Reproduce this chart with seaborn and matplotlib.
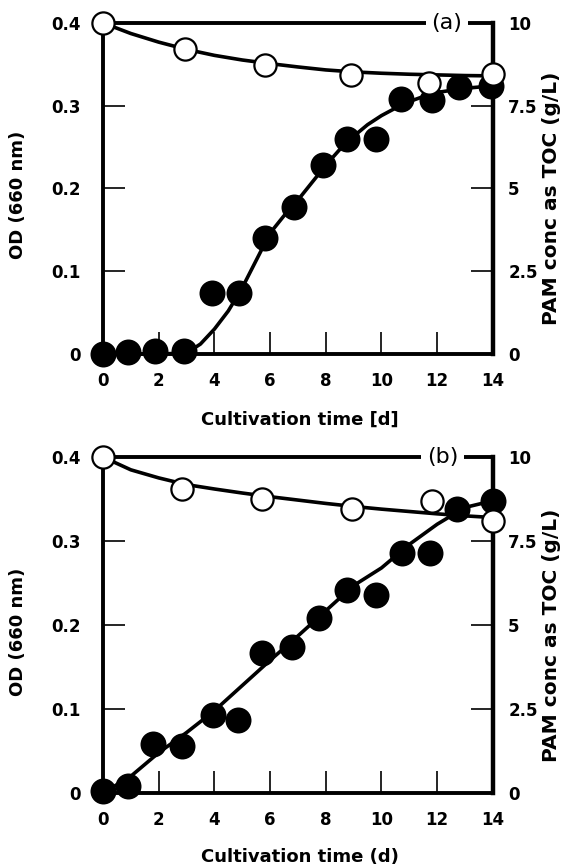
import matplotlib
matplotlib.use("Agg")
import matplotlib.pyplot as plt
import seaborn as sns

# ---- panel (a) ----
od_days_a = [0, 0.9, 1.85, 2.9, 3.9, 4.9, 5.8, 6.85, 7.9, 8.75, 9.8, 10.7, 11.8, 12.8, 13.95]
od_a = [0.0, 0.002, 0.004, 0.004, 0.074, 0.074, 0.14, 0.178, 0.228, 0.26, 0.26, 0.308, 0.307, 0.322, 0.324]
od_fit_days_a = [0, 1, 2, 3, 3.5, 4, 4.5, 5, 5.5, 6, 6.5, 7, 7.5, 8, 8.5, 9, 9.5, 10, 10.5, 11, 11.5, 12, 13, 14]
od_fit_a = [0, 0, 0, 0.001, 0.012, 0.03, 0.052, 0.08, 0.113, 0.146, 0.167, 0.186, 0.207, 0.228,
            0.247, 0.263, 0.277, 0.288, 0.297, 0.305, 0.311, 0.316, 0.321, 0.324]
toc_days_a = [0, 2.95, 5.8, 8.9, 11.7, 14.0]
toc_a = [10.0, 9.2, 8.72, 8.43, 8.2, 8.47]
toc_fit_days_a = [0, 1, 2, 3, 4, 5, 6, 7, 8, 9, 10, 11, 12, 13, 14]
toc_fit_a = [10, 9.68, 9.42, 9.2, 9.02, 8.88, 8.77, 8.67, 8.58, 8.52, 8.48, 8.45, 8.43, 8.41, 8.4]

# ---- panel (b) ----
od_days_b = [0, 0.9, 1.8, 2.85, 3.95, 4.85, 5.7, 6.8, 7.75, 8.75, 9.8, 10.75, 11.75, 12.7, 14.0]
od_b = [0.002, 0.008, 0.058, 0.056, 0.093, 0.087, 0.167, 0.174, 0.208, 0.242, 0.236, 0.286, 0.286, 0.338, 0.348]
od_fit_days_b = [0, 1, 2, 3, 4, 5, 6, 7, 8, 9, 10, 11, 12, 13, 14]
od_fit_b = [0, 0.02, 0.048, 0.072, 0.098, 0.128, 0.158, 0.187, 0.217, 0.247, 0.268, 0.296, 0.32, 0.34, 0.348]
toc_days_b = [0, 2.85, 5.72, 8.95, 11.8, 14.0]
toc_b = [10.0, 9.05, 8.75, 8.45, 8.7, 8.1]
toc_fit_days_b = [0, 1, 2, 3, 4, 5, 6, 7, 8, 9, 10, 11, 12, 13, 14]
toc_fit_b = [10, 9.62, 9.38, 9.18, 9.05, 8.93, 8.82, 8.72, 8.62, 8.53, 8.45, 8.38, 8.31, 8.25, 8.2]

x_ticks = [0, 2, 4, 6, 8, 10, 12, 14]
od_ticks = [0, 0.1, 0.2, 0.3, 0.4]
od_labels = ["0", "0.1", "0.2", "0.3", "0.4"]
toc_ticks = [0, 2.5, 5, 7.5, 10]
toc_labels = ["0", "2.5", "5", "7.5", "10"]

sns.set_style("ticks")
plt.rcParams["font.family"] = ["DejaVu Sans"]
plt.rcParams["font.weight"] = "bold"
plt.rcParams["text.color"] = "black"
plt.rcParams["axes.labelcolor"] = "black"
plt.rcParams["xtick.color"] = "black"
plt.rcParams["ytick.color"] = "black"

fig = plt.figure(figsize=(5.65, 8.65), dpi=100)


def draw_panel(ax, od_x, od_y, odf_x, odf_y, toc_x, toc_y, tocf_x, tocf_y, tag, tag_x, xlabel, xlab_y):
    sns.lineplot(x=odf_x, y=odf_y, ax=ax, color="black", linewidth=2.6, sort=False, clip_on=False)
    sns.scatterplot(x=od_x, y=od_y, ax=ax, color="black", s=350, edgecolor="black",
                    linewidth=0, zorder=5, clip_on=False)
    ax.set_xlim(0, 14)
    ax.set_ylim(0, 0.4)
    ax.set_xticks(x_ticks)
    ax.set_yticks(od_ticks)
    ax.set_yticklabels(od_labels)
    ax.tick_params(axis="x", direction="in", length=16, width=1.2, pad=13, labelsize=12)
    ax.tick_params(axis="y", direction="in", length=16, width=1.2, pad=16, labelsize=12)
    for side in ["left", "top", "bottom"]:
        ax.spines[side].set_visible(True)
        ax.spines[side].set_linewidth(2.8)
        ax.spines[side].set_color("black")
    ax.spines["right"].set_visible(False)
    ax.set_xlabel(xlabel, fontsize=13, fontweight="bold")
    ax.xaxis.set_label_coords(0.505, xlab_y)
    ax.set_ylabel("OD (660 nm)", fontsize=13, fontweight="bold")
    ax.yaxis.set_label_coords(-0.195, 0.48)

    ax2 = ax.twinx()
    sns.lineplot(x=tocf_x, y=tocf_y, ax=ax2, color="black", linewidth=2.6, sort=False, clip_on=False)
    sns.scatterplot(x=toc_x, y=toc_y, ax=ax2, color="white", s=256, edgecolor="black",
                    linewidth=1.6, zorder=5, clip_on=False)
    ax2.set_ylim(0, 10)
    ax2.set_yticks(toc_ticks)
    ax2.set_yticklabels(toc_labels)
    ax2.tick_params(axis="y", direction="in", length=16, width=1.2, pad=11, labelsize=12)
    for side in ["left", "top", "bottom"]:
        ax2.spines[side].set_visible(False)
    ax2.spines["right"].set_visible(True)
    ax2.spines["right"].set_linewidth(3.2)
    ax2.spines["right"].set_color("black")
    ax2.set_ylabel("PAM conc as TOC (g/L)", fontsize=14.5, fontweight="bold")
    ax2.yaxis.set_label_coords(1.125, 0.47)
    ax2.text(tag_x, 10, tag, ha="center", va="center", fontsize=16, fontweight="normal",
             bbox=dict(facecolor="white", edgecolor="none", boxstyle="square,pad=0.25"),
             zorder=10, clip_on=False)


ax_a = fig.add_axes([0.1823, 0.5908, 0.690, 0.3827])
draw_panel(ax_a, od_days_a, od_a, od_fit_days_a, od_fit_a,
           toc_days_a, toc_a, toc_fit_days_a, toc_fit_a,
           "(a)", 12.35, "Cultivation time [d]", -0.172)

ax_b = fig.add_axes([0.1823, 0.0832, 0.690, 0.3884])
draw_panel(ax_b, od_days_b, od_b, od_fit_days_b, od_fit_b,
           toc_days_b, toc_b, toc_fit_days_b, toc_fit_b,
           "(b)", 12.2, "Cultivation time (d)", -0.164)

fig.savefig("out.png", dpi=100)
